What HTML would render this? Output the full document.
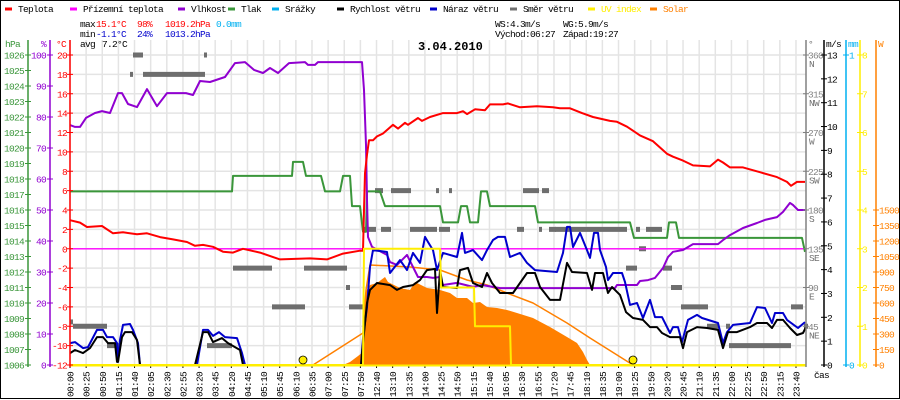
<!DOCTYPE html>
<html><head><meta charset="utf-8">
<style>
html,body{margin:0;padding:0;background:#fff;}
svg{display:block;font-family:"Liberation Mono",monospace;}
.t{font-size:9.5px;letter-spacing:-0.7px;}
</style></head>
<body>
<svg id="chart" width="900" height="400" viewBox="0 0 900 400" xmlns="http://www.w3.org/2000/svg">
<rect x="0.5" y="0.5" width="899" height="398" fill="#fff" stroke="#000"/>
<g id="grid"></g>
<g id="series"></g>
<g id="axes"></g>
<g id="legend"></g>
<g class="t">
<text x="80" y="27">max</text>
<text x="96" y="27" fill="#ff0000">15.1°C</text>
<text x="137" y="27" fill="#ff0000">98%</text>
<text x="165" y="27" fill="#ff0000">1019.2hPa</text>
<text x="216" y="27" fill="#00b0f0">0.0mm</text>
<text x="80" y="37">min</text>
<text x="96" y="37" fill="#0000cc">-1.1°C</text>
<text x="137" y="37" fill="#0000cc">24%</text>
<text x="165" y="37" fill="#0000cc">1013.2hPa</text>
<text x="80" y="47">avg</text>
<text x="102" y="47">7.2°C</text>
<text x="495" y="27">WS:4.3m/s</text>
<text x="563" y="27">WG:5.9m/s</text>
<text x="495" y="37">Východ:06:27</text>
<text x="563" y="37">Západ:19:27</text>
</g>
<text x="418" y="50" font-size="12" font-weight="bold">3.04.2010</text>
<text x="814" y="378" class="t">čas</text>
</svg>
<script>
// ---- data (x = sample index along time axis) ----
const timeLabels=["00:00","00:25","00:50","01:15","01:40","02:05","02:30","02:55","03:20","03:45","04:20","04:45","05:10","05:45","06:10","06:35","07:00","07:25","07:50","12:40","13:10","13:35","14:00","14:25","14:50","15:15","15:40","16:05","16:30","16:55","17:20","17:45","18:10","18:35","19:00","19:25","19:50","20:20","20:45","21:10","21:35","22:00","22:25","22:50","23:15","23:40"];
const tempX=[0,10,17,32,43,53,67,77,90,103,117,125,133,143,153,163,173,190,210,240,257,273,290,293,294,295,297,299,303,307,313,323,328,335,338,348,352,360,373,387,393,397,405,415,420,433,438,450,467,483,490,500,512,523,540,547,557,570,583,597,603,613,623,640,648,653,660,673,690,707,717,721,727,735];
const tempV=[2.95,2.7,2.25,2.35,1.6,1.7,1.5,1.6,1.2,0.97,0.7,0.3,0.4,0.2,-0.3,-0.4,0.0,-0.4,-1.1,-1.0,-1.1,-0.5,-0.2,-0.2,4.0,7.8,9.7,11.2,11.2,11.6,11.9,12.8,12.4,13.0,12.8,13.5,13.2,13.6,14.0,14.0,14.2,13.9,14.4,14.3,14.9,14.9,15.0,14.6,14.7,14.6,14.5,14.5,14.0,13.6,13.2,13.1,12.6,11.7,11.1,9.8,9.5,9.1,8.6,8.5,9.2,8.9,8.4,8.4,7.9,7.4,6.9,6.5,6.9,6.9];
const feelX=[0,736];
const feelV=[0,0];
const humX=[0,5,10,16,25,32,40,48,52,58,67,77,87,97,116,123,130,140,155,165,175,184,193,200,208,219,235,238,245,248,292,294,296,297,298,302,317,320,327,337,343,348,357,363,370,373,387,403,412,430,545,547,567,570,578,585,593,598,603,613,623,648,653,660,673,687,695,707,713,720,723,728,735];
const humV=[77.4,76.8,76.8,79.7,81.3,81.9,81.3,87.7,87.7,84.2,83.2,89.0,83.5,87.7,87.7,87.1,91.6,91.3,92.9,97.4,97.7,95.2,94.2,95.8,94.2,97.4,97.7,96.8,96.8,97.7,97.7,88.7,71,53.2,41.3,38.1,35.5,33.2,32.3,35.5,31.6,28.4,28.4,28.1,28.4,25.8,26.5,25.2,25.8,24.8,24.8,25.8,25.8,27.1,27.4,28.1,31.3,34.8,36.5,37.1,39.0,39.0,40.3,41.9,44.2,45.8,46.8,47.7,49.4,52.3,51.6,50,50];
const presX=[0,162,163,222,223,233,236,251,255,270,273,280,282,290,293,296,297,310,315,370,373,388,391,397,400,408,411,417,420,465,468,560,564,597,599,606,609,732,735];
const presV=[1017.2,1017.2,1018.2,1018.2,1019.1,1019.1,1018.2,1018.2,1017.2,1017.2,1018.2,1018.2,1016.25,1016.25,1014.6,1014.6,1017.2,1017.2,1016.25,1016.25,1015.2,1015.2,1016.25,1016.25,1015.2,1015.2,1017.2,1017.2,1016.25,1016.25,1015.2,1015.2,1014.2,1014.2,1015.2,1015.2,1014.2,1014.2,1013.3];
const windX=[0,5,13,20,27,33,38,45,47,48,52,55,62,67,70,125,133,138,143,152,158,170,173,291,293,297,300,307,320,327,333,343,350,357,365,367,370,373,387,390,398,403,412,417,422,430,443,457,465,470,480,490,497,502,517,522,525,533,538,542,550,556,563,573,580,587,592,600,610,613,617,627,637,648,653,658,667,680,687,697,702,707,713,720,727,733,736];
const windV=[0.50,0.63,0.50,0.71,1.17,1.17,0.92,0.92,0.13,0.13,1.17,1.38,1.38,1.05,0,0,1.38,1.38,0.96,1.13,0.92,0.63,0,0,0.92,2.6,3.15,3.44,3.35,3.15,3.27,3.35,3.56,3.98,4.03,2.18,3.98,3.27,3.23,3.98,4.07,3.44,3.27,3.86,3.44,3.02,3.02,3.86,3.86,3.27,2.73,2.73,4.28,3.90,3.86,3.15,3.86,3.86,3.02,3.27,2.94,2.22,1.97,1.89,1.59,1.59,1.34,1.17,1.17,0.71,1.38,1.59,1.55,1.47,0.71,1.38,1.38,1.59,1.76,1.76,1.55,1.89,1.89,1.55,1.26,1.34,1.59];
const gustX=[0,5,13,18,27,33,37,43,47,48,50,53,60,63,68,70,127,133,138,143,149,155,167,172,175,291,293,297,300,303,317,320,330,337,343,350,355,358,363,367,373,387,392,395,403,412,417,423,428,435,440,450,457,465,487,493,497,500,503,510,517,520,524,528,530,536,538,543,552,555,560,567,573,580,585,592,600,603,608,612,618,627,632,648,653,657,663,680,687,695,702,705,713,717,728,735];
const gustV=[0.92,0.96,0.71,0.75,1.47,1.47,1.17,1.17,0.92,0.13,1.05,1.68,1.72,1.47,0.92,0,0,1.47,1.47,1.22,1.38,1.17,1.13,0.50,0,0,1.13,2.43,4.11,4.82,4.74,3.86,4.40,3.98,4.70,4.28,5.37,5.16,4.82,3.98,4.70,4.53,5.54,4.70,4.82,4.40,4.82,5.24,5.37,5.37,4.53,4.70,4.28,3.98,3.90,4.70,5.79,5.79,4.95,5.54,4.82,4.49,5.54,5.54,4.82,4.11,3.56,3.86,3.86,3.48,2.52,2.60,1.97,2.73,2.01,2.01,1.34,1.59,1.59,0.96,1.89,2.10,1.97,1.76,0.92,1.38,1.68,1.76,2.43,2.39,1.76,2.18,2.18,1.89,1.55,1.80];
const dirStart=[0,3,37,60,63,73,134,137,163,202,234,276,279,293,305,311,321,340,366,369,379,447,453,469,472,479,485,556,566,569,576,593,601,611,637,656,659,721,734];
const dirEnd=[3,37,50,63,73,135,137,162,202,235,277,280,294,306,313,321,341,367,369,380,382,454,469,472,479,486,557,567,570,576,592,602,612,638,649,660,721,733,738];
const dirV=[50,45,22.5,337.5,360,337.5,360,22.5,112.5,67.5,112.5,90,67.5,157.5,202.5,157.5,202.5,157.5,202.5,157.5,202.5,157.5,202.5,157.5,202.5,157.5,157.5,112.5,157.5,135,157.5,112.5,90,67.5,45,45,22.5,67.5,45];
const uvX=[0,293,294,370,371,404,405,440,441,736];
const uvV=[0,0,3,3,2,2,1,1,0,0];
const solX=[243,293,296,300,340,370,397,417,437,463,497,520,563];
const solV=[0,310,726,968,948,919,823,774,697,600,406,261,0];
const solAreaX=[273,280,288,293,294,295,300,307,315,318,330,340,345,357,370,380,387,397,403,410,417,427,437,447,463,480,497,507,513,517,520];
const solAreaV=[0,29,87,126,339,697,774,794,852,803,745,726,803,745,726,697,648,648,600,610,561,552,532,503,455,368,271,213,126,48,0];
const hpaTicks=[1026,1025,1024,1023,1022,1021,1020,1019,1018,1017,1016,1015,1014,1013,1012,1011,1010,1009,1008,1007,1006];
const pctTicks=[100,90,80,70,60,50,40,30,20,10,0];
const tempTicks=[20,18,16,14,12,10,8,6,4,2,0,-2,-4,-6,-8,-10,-12];
const dirTicks=[360,315,270,225,180,135,90,45];
const dirNames=["N","NW","W","SW","S","SE","E","NE"];
const msTicks=[13,12,11,10,9,8,7,6,5,4,3,2,1,0];
const mmTicks=[1,0];
const uvTicks=[8,7,6,5,4,3,2,1,0];
const wTicks=[1500,1350,1200,1050,900,750,600,450,300,150,0];

// ---- scales ----
const X0=70, TOP=55, BOT=365, H=BOT-TOP;
const xs=i=>X0+i;
const slotX=k=>X0+k*16.133;
const yT=v=>TOP+(20-v)*H/32;
const yP=v=>TOP+(1026-v)*H/20;
const yH=v=>TOP+(100-v)*H/100;
const yW=v=>BOT-v*H/13;
const yD=v=>BOT-v*H/360;
const yUV=v=>BOT-v*H/8;
const ySol=v=>BOT-v*155/1500;
const NS="http://www.w3.org/2000/svg";
function mk(tag,attrs,parent){const e=document.createElementNS(NS,tag);for(const k in attrs)e.setAttribute(k,attrs[k]);parent.appendChild(e);return e;}
const G=document.getElementById('grid'),S=document.getElementById('series'),A=document.getElementById('axes'),L=document.getElementById('legend');

// grid
timeLabels.forEach((lab,k)=>{
  const x=slotX(k);
  const ln=mk('line',{x1:x,x2:x,y1:40,y2:BOT,stroke:'#e4e4e4','stroke-width':1.5},G);
  
  
  mk('line',{x1:x,x2:x,y1:BOT,y2:BOT+3,stroke:'#000'},G);
  const t=mk('text',{x:0,y:0,class:'t',transform:`translate(${x+3.5},397) rotate(-90)`},G);
  t.textContent=lab;
  
  
});
tempTicks.forEach(v=>{
  const ln=mk('line',{x1:X0,x2:806,y1:yT(v),y2:yT(v),stroke:'#e4e4e4','stroke-width':1.5},G);
  
  
});

function poly(xa,va,fy,color,w,name){
  let pts=[];
  const n=Math.min(xa.length,va.length);
  for(let i=0;i<n;i++){pts.push(xs(xa[i])+','+fy(va[i]).toFixed(1));}
  const p=mk('polyline',{points:pts.join(' '),fill:'none',stroke:color,'stroke-width':w,'stroke-linejoin':'round'},S);
  
  
  return p;
}
// solar area
{
  let pts=[];
  for(let i=0;i<solAreaX.length;i++)pts.push(xs(solAreaX[i])+','+ySol(solAreaV[i]).toFixed(1));
  const p=mk('polygon',{points:pts.join(' '),fill:'#ff8000'},S);
  
  
}
poly(solX,solV,ySol,'#ff8000',1.5,'solar-line');
// wind direction bars
dirV.forEach((d,i)=>{
  const r=mk('rect',{x:xs(dirStart[i]),y:yD(d)-2.5,width:dirEnd[i]-dirStart[i],height:5,fill:'#6e6e6e'},S);
  
  
});
poly(feelX,feelV,yT,'#ff00ff',1.3,'feels-like-line');
poly(presX,presV,yP,'#3a963a',2,'pressure-line');
poly(humX,humV,yH,'#9000d0',2,'humidity-line');
poly(gustX,gustV,yW,'#0000cc',2,'wind-gust-line');
poly(windX,windV,yW,'#000',2,'wind-speed-line');
poly(tempX,tempV,yT,'#ff0000',2,'temperature-line');
poly(uvX,uvV,yUV,'#ffee00',2,'uv-index-line');
// base line
mk('line',{x1:X0,x2:806,y1:BOT+0.5,y2:BOT+0.5,stroke:'#ffee00','stroke-width':2},S);
// sun markers
[303,633].forEach(x=>{const c=mk('circle',{cx:x,cy:360,r:4,fill:'#ffee00',stroke:'#000','stroke-width':0.8},S);

});

// axes
function vaxis(x,color,ticks,fy,labelX,anchor,name){
  const g=mk('g',{},A);
  
  
  mk('line',{x1:x,x2:x,y1:40,y2:BOT+2,stroke:color,'stroke-width':1.5},g);
  ticks.forEach(v=>{
    const y=fy(v);
    mk('line',{x1:x-3,x2:x+3,y1:y,y2:y,stroke:color},g);
    const t=mk('text',{x:labelX,y:y+3.5,fill:color,'text-anchor':anchor,class:'t'},g);
    t.textContent=v;
  });
  return g;
}
vaxis(28,'#3a963a',hpaTicks,yP,24,'end','pressure-axis');
vaxis(50,'#9000d0',pctTicks,yH,46,'end','humidity-axis');
vaxis(70,'#ff0000',tempTicks,yT,67,'end','temperature-axis');
vaxis(806,'#808080',dirTicks,yD,808,'start','direction-axis');
dirTicks.forEach((v,i)=>{const t=mk('text',{x:809,y:yD(v)+12,fill:'#707070',class:'t'},A);t.textContent=dirNames[i];});
vaxis(824,'#000',msTicks,yW,827,'start','wind-axis');
vaxis(846,'#00b0f0',mmTicks,v=>BOT-v*H,849,'start','rain-axis');
vaxis(860,'#ffee00',uvTicks,yUV,862,'start','uv-axis');
vaxis(876,'#ff8000',wTicks,ySol,879,'start','solar-axis');
[['hPa',5,'#3a963a'],['%',41,'#9000d0'],['°C',56,'#ff0000'],['°',808,'#707070'],['m/s',826,'#000'],['mm',848,'#00b0f0'],['W',878,'#ff8000']].forEach(h=>{
  const t=mk('text',{x:h[1],y:47,fill:h[2],class:'t'},A);t.textContent=h[0];
  
  
});

// legend
const legNames=["Teplota","Přízemní teplota","Vlhkost","Tlak","Srážky","Rychlost větru","Náraz větru","Směr větru","UV index","Solar"];
const legColors=['#ff0000','#ff00ff','#9000d0','#3a963a','#00b0f0','#000','#0000cc','#707070','#ffee00','#ff8000'];
const legX=[5,70,178,228,272,337,430,510,588,650];
legNames.forEach((n,i)=>{
  const g=mk('g',{},L);
  
  
  mk('line',{x1:legX[i],x2:legX[i]+7,y1:9,y2:9,stroke:legColors[i],'stroke-width':3},g);
  const t=mk('text',{x:legX[i]+13,y:12,fill:(i>=8?legColors[i]:'#000'),class:'t'},g);t.textContent=n;
});
</script>
</body></html>
